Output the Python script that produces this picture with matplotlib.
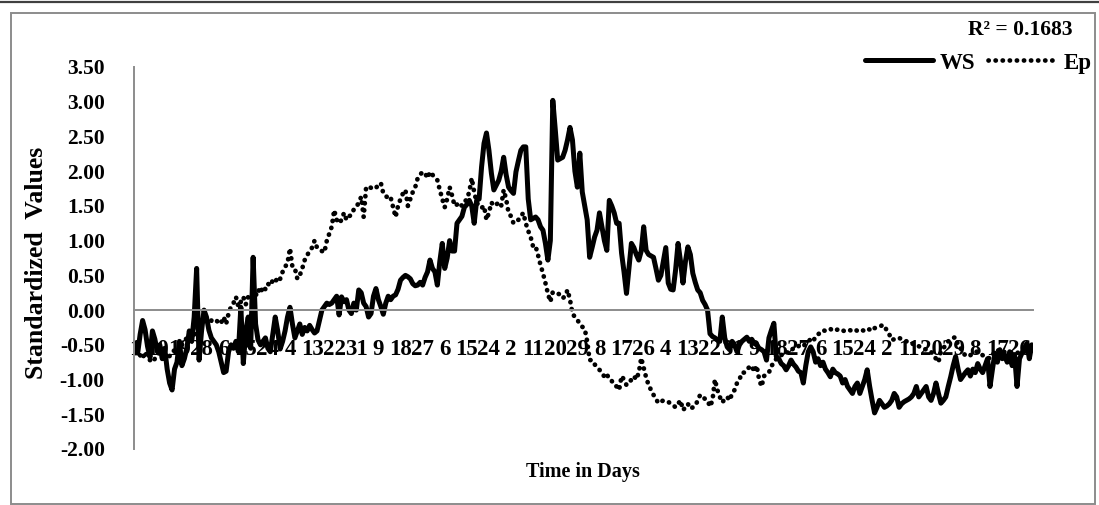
import matplotlib
matplotlib.use("Agg")
import matplotlib.pyplot as plt
from matplotlib.lines import Line2D
from matplotlib.patches import Rectangle

# ---------------- data (standardized daily values, 366 days) ----------------
ws = [
    -0.58, -0.62, -0.35, -0.15, -0.28, -0.52, -0.68, -0.30, -0.42, -0.60,
    -0.50, -0.70, -0.55, -0.85, -1.05, -1.15, -0.85, -0.75, -0.45, -0.80,
    -0.70, -0.55, -0.30, -0.45, -0.10, 0.60, -0.72, -0.30, 0.00, -0.10,
    -0.29, -0.40, -0.45, -0.50, -0.60, -0.75, -0.90, -0.88, -0.60, -0.50,
    -0.55, -0.45, -0.60, 0.04, -0.77, -0.30, -0.10, -0.55, 0.76, -0.20,
    -0.43, -0.50, -0.45, -0.40, -0.55, -0.60, -0.35, -0.10, -0.30, -0.56,
    -0.45, -0.30, -0.10, 0.04, -0.20, -0.40, -0.30, -0.20, -0.35, -0.25,
    -0.30, -0.22, -0.28, -0.33, -0.30, -0.15, 0.00, 0.05, 0.10, 0.08,
    0.10, 0.15, 0.20, -0.07, 0.19, 0.12, 0.15, 0.00, -0.05, 0.10,
    0.00, 0.29, 0.25, 0.10, 0.05, -0.10, -0.05, 0.20, 0.31, 0.15,
    0.05, -0.06, 0.10, 0.20, 0.15, 0.20, 0.22, 0.30, 0.43, 0.47,
    0.50, 0.48, 0.45, 0.38, 0.35, 0.36, 0.40, 0.36, 0.47, 0.55,
    0.72, 0.60, 0.55, 0.36, 0.70, 0.96, 0.60, 0.75, 1.00, 0.85,
    0.85, 1.25, 1.30, 1.35, 1.48, 1.52, 1.58, 1.50, 1.25, 1.58,
    1.60, 2.06, 2.40, 2.55, 2.30, 1.97, 1.73, 1.80, 1.87, 2.00,
    2.20, 1.95, 1.77, 1.72, 1.68, 1.99, 2.15, 2.30, 2.35, 2.35,
    1.60, 1.30, 1.32, 1.34, 1.30, 1.20, 1.15, 0.96, 0.72, 1.00,
    3.02, 2.60, 2.16, 2.18, 2.20, 2.30, 2.45, 2.63, 2.45, 2.00,
    1.77, 2.26, 1.70, 1.50, 1.30, 0.76, 0.90, 1.05, 1.15, 1.40,
    1.20, 1.00, 0.86, 1.58, 1.50, 1.40, 1.25, 1.25, 0.82, 0.55,
    0.24, 0.60, 0.96, 0.90, 0.80, 0.72, 0.85, 1.20, 0.86, 0.80,
    0.78, 0.76, 0.60, 0.43, 0.50, 0.70, 0.90, 0.39, 0.30, 0.29,
    0.58, 0.96, 0.70, 0.39, 0.70, 0.91, 0.80, 0.53, 0.40, 0.29,
    0.25, 0.14, 0.08, 0.00, -0.34, -0.38, -0.40, -0.43, -0.45, -0.10,
    -0.40, -0.53, -0.57, -0.45, -0.50, -0.60, -0.50, -0.45, -0.42, -0.39,
    -0.45, -0.42, -0.48, -0.50, -0.55, -0.57, -0.60, -0.72, -0.40, -0.29,
    -0.19, -0.67, -0.70, -0.77, -0.80, -0.86, -0.80, -0.72, -0.78, -0.82,
    -0.88, -0.90, -1.05, -0.80, -0.60, -0.53, -0.60, -0.75, -0.70, -0.80,
    -0.75, -0.85, -0.90, -0.96, -0.85, -0.90, -0.92, -0.95, -1.05, -1.00,
    -1.10, -1.15, -1.20, -1.10, -1.05, -1.20, -1.10, -1.00, -0.86, -1.10,
    -1.30, -1.48, -1.40, -1.30, -1.35, -1.40, -1.38, -1.35, -1.30, -1.20,
    -1.25, -1.40, -1.35, -1.32, -1.30, -1.28, -1.25, -1.20, -1.10, -1.25,
    -1.20, -1.15, -1.10, -1.25, -1.30, -1.20, -1.05, -1.20, -1.34, -1.30,
    -1.25, -1.10, -0.96, -0.80, -0.67, -0.85, -1.00, -0.95, -0.90, -0.86,
    -0.95, -0.85, -0.90, -0.77, -0.85, -0.90, -0.80, -0.70, -1.10, -0.85,
    -0.62, -0.75, -0.57, -0.70, -0.65, -0.75, -0.60, -0.80, -0.65, -1.10,
    -0.70, -0.62, -0.55, -0.48, -0.70, -0.50,
]

ep = [
    -0.62, -0.60, -0.65, -0.70, -0.60, -0.68, -0.72, -0.75, -0.70, -0.65,
    -0.60, -0.55, -0.62, -0.70, -0.66, -0.60, -0.58, -0.62, -0.55, -0.50,
    -0.45, -0.40, -0.35, -0.30, -0.35, -0.28, -0.22, -0.18, -0.20, -0.15,
    -0.19, -0.15, -0.16, -0.14, -0.20, -0.18, -0.10, -0.20, -0.05, 0.05,
    0.10, 0.19, 0.05, 0.12, 0.19, 0.08, 0.19, 0.15, 0.22, 0.20,
    0.30, 0.24, 0.34, 0.30, 0.38, 0.35, 0.43, 0.40, 0.48, 0.45,
    0.55, 0.62, 0.68, 0.89, 0.62, 0.60, 0.45, 0.50, 0.60, 0.72,
    0.79, 0.85, 0.90, 1.00, 0.90, 0.88, 0.85, 0.83, 1.00, 1.10,
    1.20, 1.44, 1.30, 1.25, 1.30, 1.40, 1.30, 1.35, 1.37, 1.45,
    1.48, 1.55, 1.63, 1.34, 1.77, 1.78, 1.76, 1.74, 1.76, 1.80,
    1.83, 1.68, 1.65, 1.60, 1.62, 1.48, 1.34, 1.50, 1.60, 1.68,
    1.73, 1.50, 1.60, 1.70, 1.77, 1.90, 1.95, 1.99, 1.97, 1.90,
    1.99, 1.95, 1.90, 1.87, 1.73, 1.60, 1.48, 1.60, 1.77, 1.65,
    1.50, 1.52, 1.55, 1.50, 1.55, 1.60, 1.70, 1.90, 1.70, 1.55,
    1.50, 1.47, 1.50, 1.30, 1.40, 1.55, 1.50, 1.52, 1.55, 1.50,
    1.73, 1.60, 1.40, 1.35, 1.25, 1.28, 1.30, 1.35, 1.40, 1.25,
    1.14, 1.05, 0.91, 0.92, 0.79, 0.65, 0.53, 0.39, 0.24, 0.12,
    0.26, 0.25, 0.24, 0.22, 0.17, 0.20, 0.29, 0.15, -0.05, -0.10,
    -0.14, -0.20, -0.24, -0.27, -0.45, -0.72, -0.72, -0.78, -0.82, -0.86,
    -0.90, -0.96, -0.92, -1.00, -1.02, -1.08, -1.10, -1.15, -0.95, -1.00,
    -1.08, -1.05, -1.00, -0.95, -1.00, -0.90, -0.69, -0.83, -0.97, -1.08,
    -1.15, -1.22, -1.28, -1.34, -1.32, -1.30, -1.31, -1.32, -1.35, -1.37,
    -1.40, -1.35, -1.30, -1.44, -1.40, -1.35, -1.42, -1.40, -1.38, -1.30,
    -1.22, -1.25, -1.28, -1.30, -1.39, -1.30, -1.00, -1.15, -1.25, -1.33,
    -1.28, -1.25, -1.30, -1.20, -1.15, -1.05, -1.00, -0.90, -0.90, -0.86,
    -0.82, -0.80, -0.89, -0.80, -1.00, -1.10, -0.95, -0.92, -0.90, -0.80,
    -0.77, -0.70, -0.67, -0.65, -0.62, -0.60, -0.62, -0.58, -0.55, -0.55,
    -0.52, -0.50, -0.52, -0.48, -0.45, -0.42, -0.45, -0.38, -0.35, -0.32,
    -0.29, -0.30, -0.29, -0.27, -0.30, -0.29, -0.28, -0.30, -0.29, -0.31,
    -0.30, -0.29, -0.30, -0.28, -0.30, -0.31, -0.29, -0.30, -0.27, -0.28,
    -0.30, -0.26, -0.25, -0.24, -0.22, -0.22, -0.30, -0.35, -0.43, -0.42,
    -0.40, -0.40, -0.42, -0.43, -0.45, -0.45, -0.47, -0.50, -0.50, -0.52,
    -0.54, -0.55, -0.57, -0.58, -0.60, -0.65, -0.70, -0.75, -0.60, -0.55,
    -0.50, -0.45, -0.43, -0.40, -0.39, -0.50, -0.55, -0.62, -0.65, -0.67,
    -0.65, -0.62, -0.60, -0.60, -0.62, -0.65, -0.66, -0.68, -0.70, -0.65,
    -0.60, -0.57, -0.60, -0.62, -0.60, -0.60, -0.60, -0.62, -0.61, -0.62,
    -0.60, -0.60, -0.60, -0.59, -0.58, -0.58,
]

tick_labels = ["1", "10", "19", "28", "6", "15", "24", "4", "13", "22", "31",
               "9", "18", "27", "6", "15", "24", "2", "11", "20", "29", "8",
               "17", "26", "4", "13", "22", "31", "9", "18", "27", "6", "15",
               "24", "2", "11", "20", "29", "8", "17", "26"]
tick_step = 9
y_ticks = [-2.0, -1.5, -1.0, -0.5, 0.0, 0.5, 1.0, 1.5, 2.0, 2.5, 3.0, 3.5]
series_names = ["WS", "Ep"]
r2_text = "R\u00b2 = 0.1683"

# ---------------- figure ----------------
W, H = 1099, 505
plt.rcParams["font.family"] = ["Liberation Serif", "DejaVu Serif"]
plt.rcParams["font.weight"] = "bold"
FS = 15.5
FS_X = 16.5

fig = plt.figure(figsize=(W / 100, H / 100), dpi=100)


def fx(px):
    return px / W


def fy(py):
    return 1 - py / H


ax = fig.add_axes([fx(134), fy(449), fx(1033) - fx(134), fy(67) - fy(449)])
days = list(range(len(ws)))
ax.plot(days, ws, color="black", lw=3.6, solid_joinstyle="round",
        solid_capstyle="round", label=series_names[0])
ax.plot(days, ep, color="black", lw=3.4, linestyle=(0, (0.05, 1.45)),
        dash_capstyle="round", label=series_names[1])

ax.tick_params(axis="both", length=0)
ax.tick_params(axis="y", pad=21, labelsize=FS)
ax.tick_params(axis="x", pad=21, labelsize=FS_X)

ax.set_xlim(-0.5, len(ws) - 0.5)
ax.set_ylim(y_ticks[0], y_ticks[-1])
ax.set_yticks(y_ticks)
ax.set_yticklabels([f"{v:.2f}" for v in y_ticks], fontsize=FS, fontweight="bold")
ax.set_xticks(days[::tick_step])
ax.set_xticklabels(tick_labels, fontsize=FS_X, fontweight="bold")

for s in ["top", "right"]:
    ax.spines[s].set_visible(False)
ax.spines["bottom"].set_position(("data", 0))
for s in ["left", "bottom"]:
    ax.spines[s].set_color("#8c8c8c")
    ax.spines[s].set_linewidth(1.4)

ax.set_ylabel("Standardized  Values", fontsize=18.5, fontweight="bold")
ax.yaxis.set_label_coords((48 - 134) / 899, (449 - 263) / 382)
ax.set_xlabel("Time in Days", fontsize=14.5, fontweight="bold")
ax.xaxis.set_label_coords((583 - 134) / 899, (449 - 462) / 382)

leg = ax.legend(loc="center right", bbox_to_anchor=(fx(1092), fy(63)),
                bbox_transform=fig.transFigure, ncol=2, frameon=False,
                fontsize=16.5, handlelength=3.0, handletextpad=0.3,
                columnspacing=0.55, borderpad=0, borderaxespad=0)
for t in leg.get_texts():
    t.set_fontweight("bold")

fig.text(fx(1072), fy(30), r2_text, ha="right", va="center", fontsize=FS,
         fontweight="bold")

# outer chart frame and page line
fig.add_artist(Rectangle((fx(11), fy(504)), fx(1095) - fx(11), fy(13) - fy(504),
                         transform=fig.transFigure, fill=False,
                         edgecolor="#8c8c8c", lw=1.4))
fig.add_artist(Line2D([0, 1], [fy(2), fy(2)], transform=fig.transFigure,
                      color="#404040", lw=1.6))

fig.savefig("out.png", dpi=100)
